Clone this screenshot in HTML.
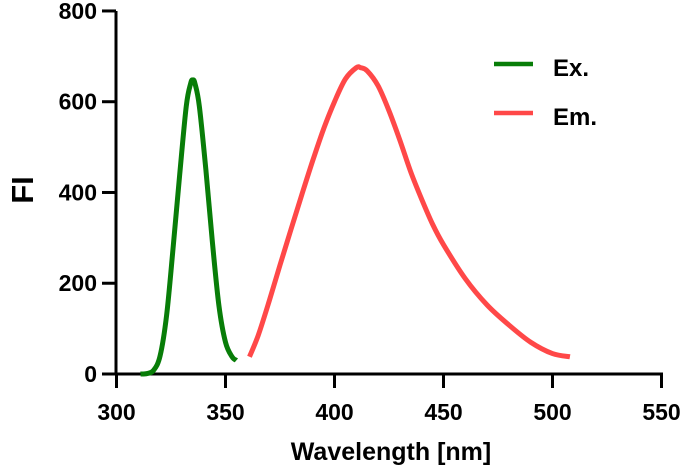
<!DOCTYPE html>
<html><head><meta charset="utf-8"><style>
body{margin:0;background:#fff}
svg{display:block;font-family:"Liberation Sans",Arial,sans-serif;font-weight:bold}
</style></head><body>
<svg id="chart" width="685" height="471" viewBox="0 0 685 471">
<g id="axes"></g><g id="series"></g>
<g>
<line x1="494" y1="64" x2="533" y2="64" stroke="#087d08" stroke-width="4.5"/>
<text x="553" y="76" font-size="24">Ex.</text>
<line x1="494" y1="113" x2="533" y2="113" stroke="#ff4848" stroke-width="4.5"/>
<text x="553" y="125" font-size="24">Em.</text>
</g>
<text x="391" y="460" font-size="25" text-anchor="middle">Wavelength [nm]</text>
<text transform="translate(33,190) rotate(-90)" font-size="31" text-anchor="middle">FI</text>
</svg>
<script>
const xTicks=[300,350,400,450,500,550];
const yTicks=[0,200,400,600,800];
const exX=[311,314,317,320,323,326,329,332,334,335,336,338,341,344,347,350,353,355];
const exY=[0,1,8,40,130,280,440,590,640,648,640,590,450,290,150,70,38,30];
const emX=[361,365,370,375,380,385,390,395,400,405,410,412,415,420,425,430,435,440,445,450,460,470,480,490,500,508];
const emY=[38,85,160,240,318,395,470,540,600,650,675,675,668,635,580,515,445,385,330,285,210,152,108,70,45,38];
const x=v=>116.5+(v-300)*2.18;
const y=v=>374-v*0.4538;
const NS="http://www.w3.org/2000/svg";
function mk(t,a,p){const e=document.createElementNS(NS,t);for(const k in a)e.setAttribute(k,a[k]);p.appendChild(e);return e;}
const ax=document.getElementById('axes');
let e=mk('line',{x1:116,y1:y(0),x2:663,y2:y(0),stroke:'#000','stroke-width':3},ax);


e=mk('line',{x1:116,y1:y(0)+1.5,x2:116,y2:y(800),stroke:'#000','stroke-width':3},ax);


xTicks.forEach(v=>{
 const t=mk('line',{x1:x(v),y1:y(0),x2:x(v),y2:y(0)+14,stroke:'#000','stroke-width':3},ax);
 
 
 const l=mk('text',{x:x(v),y:420,'font-size':23,'text-anchor':'middle'},ax);l.textContent=v;
 
 
});
yTicks.forEach(v=>{
 const t=mk('line',{x1:102,y1:y(v),x2:116,y2:y(v),stroke:'#000','stroke-width':3},ax);
 
 
 const l=mk('text',{x:97,y:y(v)+8,'font-size':23,'text-anchor':'end'},ax);l.textContent=v;
 
 
});
function path(xs,ys){
 const p=xs.map((v,i)=>[x(v),y(ys[i])]);
 let d='M'+p[0][0]+','+p[0][1];
 for(let i=0;i<p.length-1;i++){
  const p0=p[i-1]||p[i],p1=p[i],p2=p[i+1],p3=p[i+2]||p2;
  const c1=[p1[0]+(p2[0]-p0[0])/6,p1[1]+(p2[1]-p0[1])/6];
  const c2=[p2[0]-(p3[0]-p1[0])/6,p2[1]-(p3[1]-p1[1])/6];
  d+=`C${c1[0]},${c1[1]} ${c2[0]},${c2[1]} ${p2[0]},${p2[1]}`;
 }
 return d;
}
const s=document.getElementById('series');
e=mk('path',{d:path(exX,exY),fill:'none',stroke:'#087d08','stroke-width':5},s);


e=mk('path',{d:path(emX,emY),fill:'none',stroke:'#ff4848','stroke-width':5},s);


</script>
</body></html>
